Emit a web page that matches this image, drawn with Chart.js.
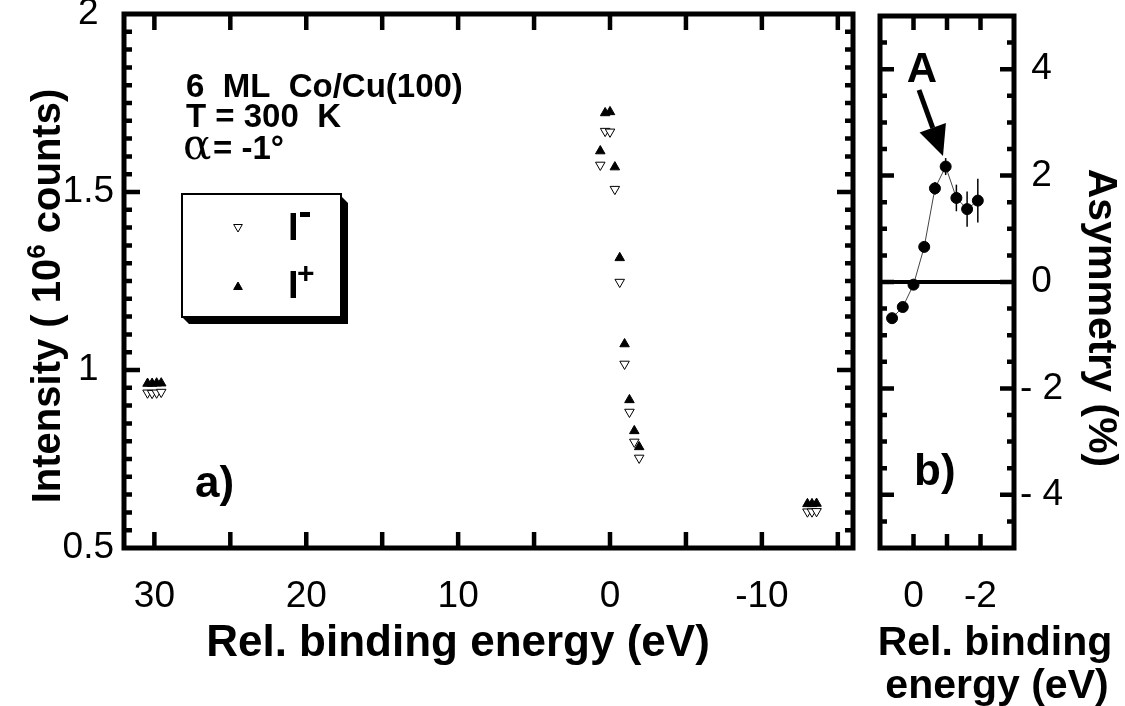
<!DOCTYPE html>
<html>
<head>
<meta charset="utf-8">
<script src="https://cdn.jsdelivr.net/npm/chart.js@4/dist/chart.umd.min.js"></script>
<style>
html,body{margin:0;padding:0;background:#fff;}
#wrapA{position:absolute;left:0;top:0;width:870px;height:706px;}
#wrapB{position:absolute;left:870px;top:0;width:255px;height:706px;}
</style>
</head>
<body>
<div id="wrapA"><canvas id="spec" width="870" height="706"></canvas></div>
<div id="wrapB"><canvas id="asym" width="255" height="706"></canvas></div>
<script>
// a) intensity (10^6 counts) vs rel. binding energy (eV), three energy windows
const energyLow  = [30.45, 30.15, 29.85, 29.55];
const iMinusLow  = [0.936, 0.935, 0.936, 0.938];
const iPlusLow   = [0.962, 0.962, 0.963, 0.963];
const energyMid  = [0.64, 0.32, 0, -0.32, -0.64, -0.96, -1.28, -1.6, -1.92];
const iMinusMid  = [1.576, 1.671, 1.669, 1.508, 1.247, 1.017, 0.882, 0.798, 0.753];
const iPlusMid   = [1.615, 1.722, 1.725, 1.570, 1.315, 1.073, 0.916, 0.829, 0.784];
const energyHigh = [-13.0, -13.3, -13.6];
const iMinusHigh = [0.602, 0.602, 0.603];
const iPlusHigh  = [0.624, 0.624, 0.625];

// b) asymmetry (%) around the peak
const asymEnergy = [0.64, 0.32, 0, -0.32, -0.64, -0.96, -1.28, -1.6, -1.92];
const asymValue  = [-0.68, -0.47, -0.05, 0.66, 1.76, 2.17, 1.58, 1.37, 1.53];
const asymError  = [0, 0, 0, 0, 0.12, 0.16, 0.25, 0.33, 0.41];

const BOLD = '"Liberation Sans", Arial, Helvetica, sans-serif';

function pts(xs, ys){ return xs.map((x,i)=>({x:x, y:ys[i]})); }
const iMinus = pts(energyLow, iMinusLow).concat(pts(energyMid, iMinusMid), pts(energyHigh, iMinusHigh));
const iPlus  = pts(energyLow, iPlusLow).concat(pts(energyMid, iPlusMid), pts(energyHigh, iPlusHigh));

function isMult(v, step){ return Math.abs(v/step - Math.round(v/step)) < 1e-6; }

// fixed axis sizes, no extra room for overhanging tick labels
function fixSize(prop, size){
  return function(s){
    s[prop] = size;
    s.paddingLeft = 0; s.paddingRight = 0; s.paddingTop = 0; s.paddingBottom = 0;
  };
}

// thick box + inward ticks on all four sides
function framePlugin(cfg){
  return {
    id:'frame',
    afterDatasetsDraw(chart){
      const {ctx, chartArea:a, scales:{x, y}} = chart;
      ctx.save();
      ctx.strokeStyle = '#000';
      ctx.lineCap = 'butt';
      ctx.lineWidth = 4.5;
      x.ticks.forEach(t=>{
        if(!isMult(t.value, cfg.xStep)) return;
        const px = x.getPixelForValue(t.value);
        if(px < a.left+3 || px > a.right-3) return;
        const L = cfg.xLen;
        ctx.beginPath();
        ctx.moveTo(px, a.bottom); ctx.lineTo(px, a.bottom-L);
        ctx.moveTo(px, a.top); ctx.lineTo(px, a.top+L);
        ctx.stroke();
      });
      y.ticks.forEach(t=>{
        if(!isMult(t.value, cfg.yStep)) return;
        const py = y.getPixelForValue(t.value);
        if(py < a.top+3 || py > a.bottom-3) return;
        const L = isMult(t.value, cfg.yMajor) ? cfg.yLong : cfg.yShort;
        ctx.beginPath();
        ctx.moveTo(a.left, py); ctx.lineTo(a.left+L, py);
        ctx.moveTo(a.right, py); ctx.lineTo(a.right-L, py);
        ctx.stroke();
      });
      if(cfg.zeroLine){
        const py = y.getPixelForValue(0);
        ctx.lineWidth = 4;
        ctx.beginPath(); ctx.moveTo(a.left, py); ctx.lineTo(a.right, py); ctx.stroke();
      }
      ctx.lineWidth = 5;
      ctx.strokeRect(a.left, a.top, a.right-a.left, a.bottom-a.top);
      ctx.restore();
    }
  };
}

function drawTri(ctx, cx, cy, r, down, filled){
  ctx.save();
  ctx.translate(cx, cy);
  if(down) ctx.rotate(Math.PI);
  ctx.beginPath();
  ctx.moveTo(0, -r);
  ctx.lineTo(r*Math.cos(Math.PI/6), r*0.5);
  ctx.lineTo(-r*Math.cos(Math.PI/6), r*0.5);
  ctx.closePath();
  ctx.fillStyle = filled ? '#000' : '#fff';
  ctx.fill();
  ctx.lineWidth = 1;
  ctx.strokeStyle = '#000';
  ctx.stroke();
  ctx.restore();
}

// texts, legend box and axis titles of panel a
const specText = {
  id:'specText',
  afterDraw(chart){
    const ctx = chart.ctx;
    ctx.save();
    ctx.fillStyle = '#000';
    ctx.textBaseline = 'alphabetic';
    ctx.textAlign = 'left';
    ctx.font = 'bold 33px ' + BOLD;
    ctx.fillText('6  ML  Co/Cu(100)', 186, 97);
    ctx.fillText('T = 300  K', 186, 127);
    ctx.font = '42px "DejaVu Serif", serif';
    ctx.fillText('\u03B1', 183, 159);
    ctx.font = 'bold 33px ' + BOLD;
    ctx.fillText('= -1\u00B0', 213, 159);

    // legend box with drop shadow
    const bx = 182, by = 194, bw = 159, bh = 123, sh = 7;
    ctx.beginPath();
    ctx.moveTo(bx+bw, by+2);
    ctx.lineTo(bx+bw+sh, by+sh+2);
    ctx.lineTo(bx+bw+sh, by+bh+sh);
    ctx.lineTo(bx+sh, by+bh+sh);
    ctx.lineTo(bx, by+bh);
    ctx.closePath();
    ctx.fill();
    ctx.fillStyle = '#fff';
    ctx.fillRect(bx, by, bw, bh);
    ctx.lineWidth = 2;
    ctx.strokeStyle = '#000';
    ctx.strokeRect(bx, by, bw, bh);
    drawTri(ctx, 238, 227, 5, true, false);
    drawTri(ctx, 238, 287, 5, false, true);
    ctx.fillStyle = '#000';
    ctx.font = 'bold 38px ' + BOLD;
    ctx.fillText('I', 288, 240);
    ctx.fillText('I', 288, 298);
    ctx.fillRect(300, 212, 10, 5);
    ctx.font = 'bold 30px ' + BOLD;
    ctx.fillText('+', 297, 283);

    ctx.font = 'bold 44px ' + BOLD;
    ctx.fillText('a)', 195, 497);

    // axis titles
    ctx.textAlign = 'center';
    ctx.font = 'bold 44px ' + BOLD;
    ctx.fillText('Rel. binding energy (eV)', 458, 656);

    ctx.save();
    ctx.translate(60, 296);
    ctx.rotate(-Math.PI/2);
    const big = 'bold 40px ' + BOLD, small = 'bold 26px ' + BOLD;
    const p1 = 'Intensity ( 10', p2 = '6', p3 = ' counts)';
    ctx.font = big; const w1 = ctx.measureText(p1).width, w3 = ctx.measureText(p3).width;
    ctx.font = small; const w2 = ctx.measureText(p2).width;
    let cx = -(w1+w2+w3)/2;
    ctx.textAlign = 'left';
    ctx.font = big; ctx.fillText(p1, cx, 0); cx += w1;
    ctx.font = small; ctx.fillText(p2, cx, -15); cx += w2;
    ctx.font = big; ctx.fillText(p3, cx, 0);
    ctx.restore();
    ctx.restore();
  }
};

// error bars, label "A" with arrow, titles of panel b
const asymText = {
  id:'asymText',
  beforeDatasetsDraw(chart){
    const {ctx, scales:{x, y}} = chart;
    ctx.save();
    ctx.strokeStyle = '#000';
    ctx.lineWidth = 1.5;
    asymEnergy.forEach((e,i)=>{
      if(!asymError[i]) return;
      const px = x.getPixelForValue(e);
      ctx.beginPath();
      ctx.moveTo(px, y.getPixelForValue(asymValue[i]-asymError[i]));
      ctx.lineTo(px, y.getPixelForValue(asymValue[i]+asymError[i]));
      ctx.stroke();
    });
    ctx.restore();
  },
  afterDraw(chart){
    const ctx = chart.ctx;
    ctx.save();
    ctx.fillStyle = '#000';
    ctx.strokeStyle = '#000';
    ctx.textAlign = 'center';
    ctx.textBaseline = 'alphabetic';
    ctx.font = 'bold 42px ' + BOLD;
    ctx.fillText('A', 52, 82);
    // arrow pointing at the peak
    const tx = 73, ty = 156, fx = 49, fy = 90;
    const ang = Math.atan2(ty-fy, tx-fx);
    const hl = 30, hw = 14;
    const bx = tx - hl*Math.cos(ang), by = ty - hl*Math.sin(ang);
    ctx.lineWidth = 5;
    ctx.beginPath(); ctx.moveTo(fx, fy); ctx.lineTo(bx, by); ctx.stroke();
    ctx.beginPath();
    ctx.moveTo(tx, ty);
    ctx.lineTo(bx + hw*Math.sin(ang), by - hw*Math.cos(ang));
    ctx.lineTo(bx - hw*Math.sin(ang), by + hw*Math.cos(ang));
    ctx.closePath(); ctx.fill();

    ctx.textAlign = 'left';
    ctx.font = 'bold 44px ' + BOLD;
    ctx.fillText('b)', 44, 485);

    ctx.textAlign = 'center';
    ctx.font = 'bold 41px ' + BOLD;
    ctx.fillText('Rel. binding', 125, 655);
    ctx.fillText('energy (eV)', 127, 698);

    ctx.save();
    ctx.translate(219, 318);
    ctx.rotate(Math.PI/2);
    ctx.font = 'bold 41px ' + BOLD;
    ctx.fillText('Asymmetry (%)', 0, 0);
    ctx.restore();
    ctx.restore();
  }
};

const tickFont = {family: BOLD, size: 37, weight: 'normal'};

new Chart(document.getElementById('spec'), {
  type:'scatter',
  data:{datasets:[
    {label:'I-', data:iMinus, pointStyle:'triangle', rotation:180, pointRadius:5.5,
     backgroundColor:'#fff', borderColor:'#000', borderWidth:1},
    {label:'I+', data:iPlus, pointStyle:'triangle', pointRadius:5.5,
     backgroundColor:'#000', borderColor:'#000', borderWidth:1}
  ]},
  options:{
    responsive:false, animation:false, devicePixelRatio:1,
    layout:{padding:{top:14, right:17, left:0, bottom:0}},
    plugins:{legend:{display:false}, tooltip:{enabled:false}},
    scales:{
      x:{type:'linear', min:-16, max:32, reverse:true,
         grid:{display:false, drawTicks:false}, border:{display:false},
         afterFit:fixSize('height', 158),
         ticks:{stepSize:5, includeBounds:false, autoSkip:false, maxRotation:0, padding:27,
                color:'#000', font:tickFont,
                callback:v=> isMult(v,10) ? String(v) : ''}},
      y:{type:'linear', min:0.5, max:2,
         grid:{display:false, drawTicks:false}, border:{display:false},
         afterFit:fixSize('width', 124),
         ticks:{stepSize:0.05, autoSkip:false, maxTicksLimit:100, padding:10, crossAlign:'center',
                color:'#000', font:tickFont,
                callback:v=> isMult(v,0.5) ? String(Math.round(v*10)/10) : ''}}
    }
  },
  plugins:[framePlugin({xStep:5, xLen:16, yStep:0.05, yMajor:0.5, yLong:16, yShort:8}), specText]
});

new Chart(document.getElementById('asym'), {
  type:'scatter',
  data:{datasets:[
    {label:'Asymmetry', data:pts(asymEnergy, asymValue), showLine:true,
     borderColor:'#444', borderWidth:1, pointRadius:5.5,
     pointBackgroundColor:'#000', pointBorderColor:'#000'}
  ]},
  options:{
    responsive:false, animation:false, devicePixelRatio:1,
    layout:{padding:{top:16, right:0, left:10, bottom:0}},
    plugins:{legend:{display:false}, tooltip:{enabled:false}},
    scales:{
      x:{type:'linear', min:-3, max:1, reverse:true,
         grid:{display:false, drawTicks:false}, border:{display:false},
         afterFit:fixSize('height', 158),
         ticks:{stepSize:1, includeBounds:false, autoSkip:false, maxRotation:0, padding:27,
                color:'#000', font:tickFont,
                callback:v=> (v===0 || v===-2) ? String(v) : ''}},
      y:{type:'linear', position:'right', min:-5, max:5,
         grid:{display:false, drawTicks:false}, border:{display:false},
         afterFit:fixSize('width', 111),
         ticks:{stepSize:0.5, autoSkip:false, maxTicksLimit:100, padding:6, crossAlign:'center',
                color:'#000', font:tickFont,
                callback:v=> isMult(v,2) ? (v<0 ? '- '+(-v) : String(v)) : ''}}
    }
  },
  plugins:[framePlugin({xStep:1, xLen:14, yStep:0.5, yMajor:2, yLong:14, yShort:7, zeroLine:true}), asymText]
});
</script>
</body>
</html>
